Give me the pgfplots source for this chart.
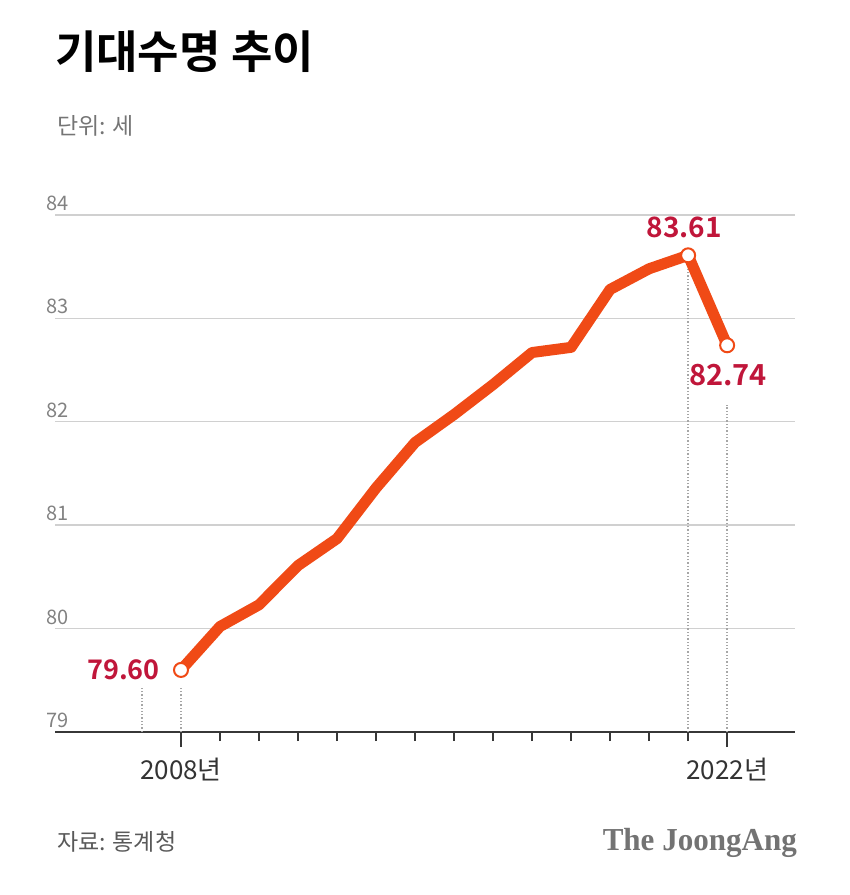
\documentclass[border=0pt]{standalone}
\usepackage{pgfplots}
\pgfplotsset{compat=1.18}
\usepackage{fontspec}
\setmainfont{Noto Sans CJK KR}
\newfontfamily\krbold{Noto Sans CJK KR Bold}
\newfontfamily\krmed{Noto Sans CJK KR Medium}
\newfontfamily\jaserif{Liberation Serif}
\definecolor{lineor}{RGB}{240,74,22}
\definecolor{lblred}{RGB}{192,22,58}
\definecolor{gridc}{RGB}{208,208,208}
\definecolor{axc}{RGB}{55,55,55}
\definecolor{tickgray}{RGB}{130,130,130}
\begin{document}
\begin{tikzpicture}
\path (0,0) rectangle (850pt,895pt);
\node[anchor=base west, inner sep=0] at (55pt,826pt) {\krbold\fontsize{45}{48}\selectfont 기대수명 추이};
\node[anchor=base west, inner sep=0, text=tickgray!90!black] at (57pt,760pt) {\fontsize{23}{24}\selectfont 단위: 세};
\node[anchor=base west, inner sep=0, text=black!65] at (57pt,45pt) {\fontsize{23}{24}\selectfont 자료: 통계청};
\node[anchor=base east, inner sep=0, text=black!55] at (797pt,44pt) {\jaserif\bfseries\fontsize{32}{34}\selectfont\scalebox{0.97}[1]{The JoongAng}};
\begin{axis}[
  at={(55pt,163pt)}, anchor=south west,
  scale only axis, width=740pt, height=517pt,
  xmin=2004.77, xmax=2023.74, ymin=79, ymax=84,
  clip=false,
  axis x line=bottom, axis y line=left,
  x axis line style={-, line width=2pt, color=axc},
  y axis line style={draw=none},
  ytick={80,81,82,83,84},
  ymajorgrids, grid style={gridc, line width=1.4pt},
  ytick style={draw=none},
  yticklabel style={anchor=south west, inner sep=0, xshift=0pt, yshift=4pt, text=tickgray, font=\fontsize{20}{20}\selectfont},
  /pgf/number format/assume math mode=true,
  xtick={2009,...,2021},
  xticklabels={},
  tick align=outside,
  major tick length=9pt,
  xtick style={axc, line width=2pt},
  extra x ticks={2008,2022},
  extra x tick labels={2008년,2022년},
  extra x tick style={major tick length=15pt, tick style={axc, line width=2pt}},
  xticklabel style={text=black!80, font=\fontsize{26}{26}\selectfont, yshift=-7pt},
  extra y ticks={79},
  extra y tick style={grid=none},
]
\addplot[gray!70, dotted, line width=1.3pt] coordinates {(2007,79) (2007,79.43)};
\addplot[gray!70, dotted, line width=1.3pt] coordinates {(2008,79) (2008,79.43)};
\addplot[gray!70, dotted, line width=1.3pt] coordinates {(2021,79) (2021,83.50)};
\addplot[gray!70, dotted, line width=1.3pt] coordinates {(2022,79) (2022,82.16)};
\addplot[lineor, line width=11pt, line join=round, line cap=round, mark=none] coordinates {
(2008,79.60) (2009,80.02) (2010,80.23) (2011,80.61) (2012,80.87) (2013,81.36) (2014,81.80)
(2015,82.07) (2016,82.36) (2017,82.67) (2018,82.72) (2019,83.28) (2020,83.48) (2021,83.61) (2022,82.74)};
\addplot[only marks, mark=*, mark size=7pt, mark options={fill=white, draw=lineor, line width=2pt}] coordinates {(2008,79.60) (2021,83.61) (2022,82.74)};
\node[anchor=east, inner sep=0, text=lblred, xshift=-21pt] at (axis cs:2008,79.60) {\krbold\fontsize{27}{27}\selectfont 79.60};
\node[anchor=south, inner sep=0, text=lblred, yshift=17pt, xshift=-4pt] at (axis cs:2021,83.61) {\krbold\fontsize{28}{28}\selectfont 83.61};
\node[anchor=north, inner sep=0, text=lblred, yshift=-19pt, xshift=1pt] at (axis cs:2022,82.74) {\krbold\fontsize{29}{29}\selectfont 82.74};
\end{axis}
\end{tikzpicture}
\end{document}
